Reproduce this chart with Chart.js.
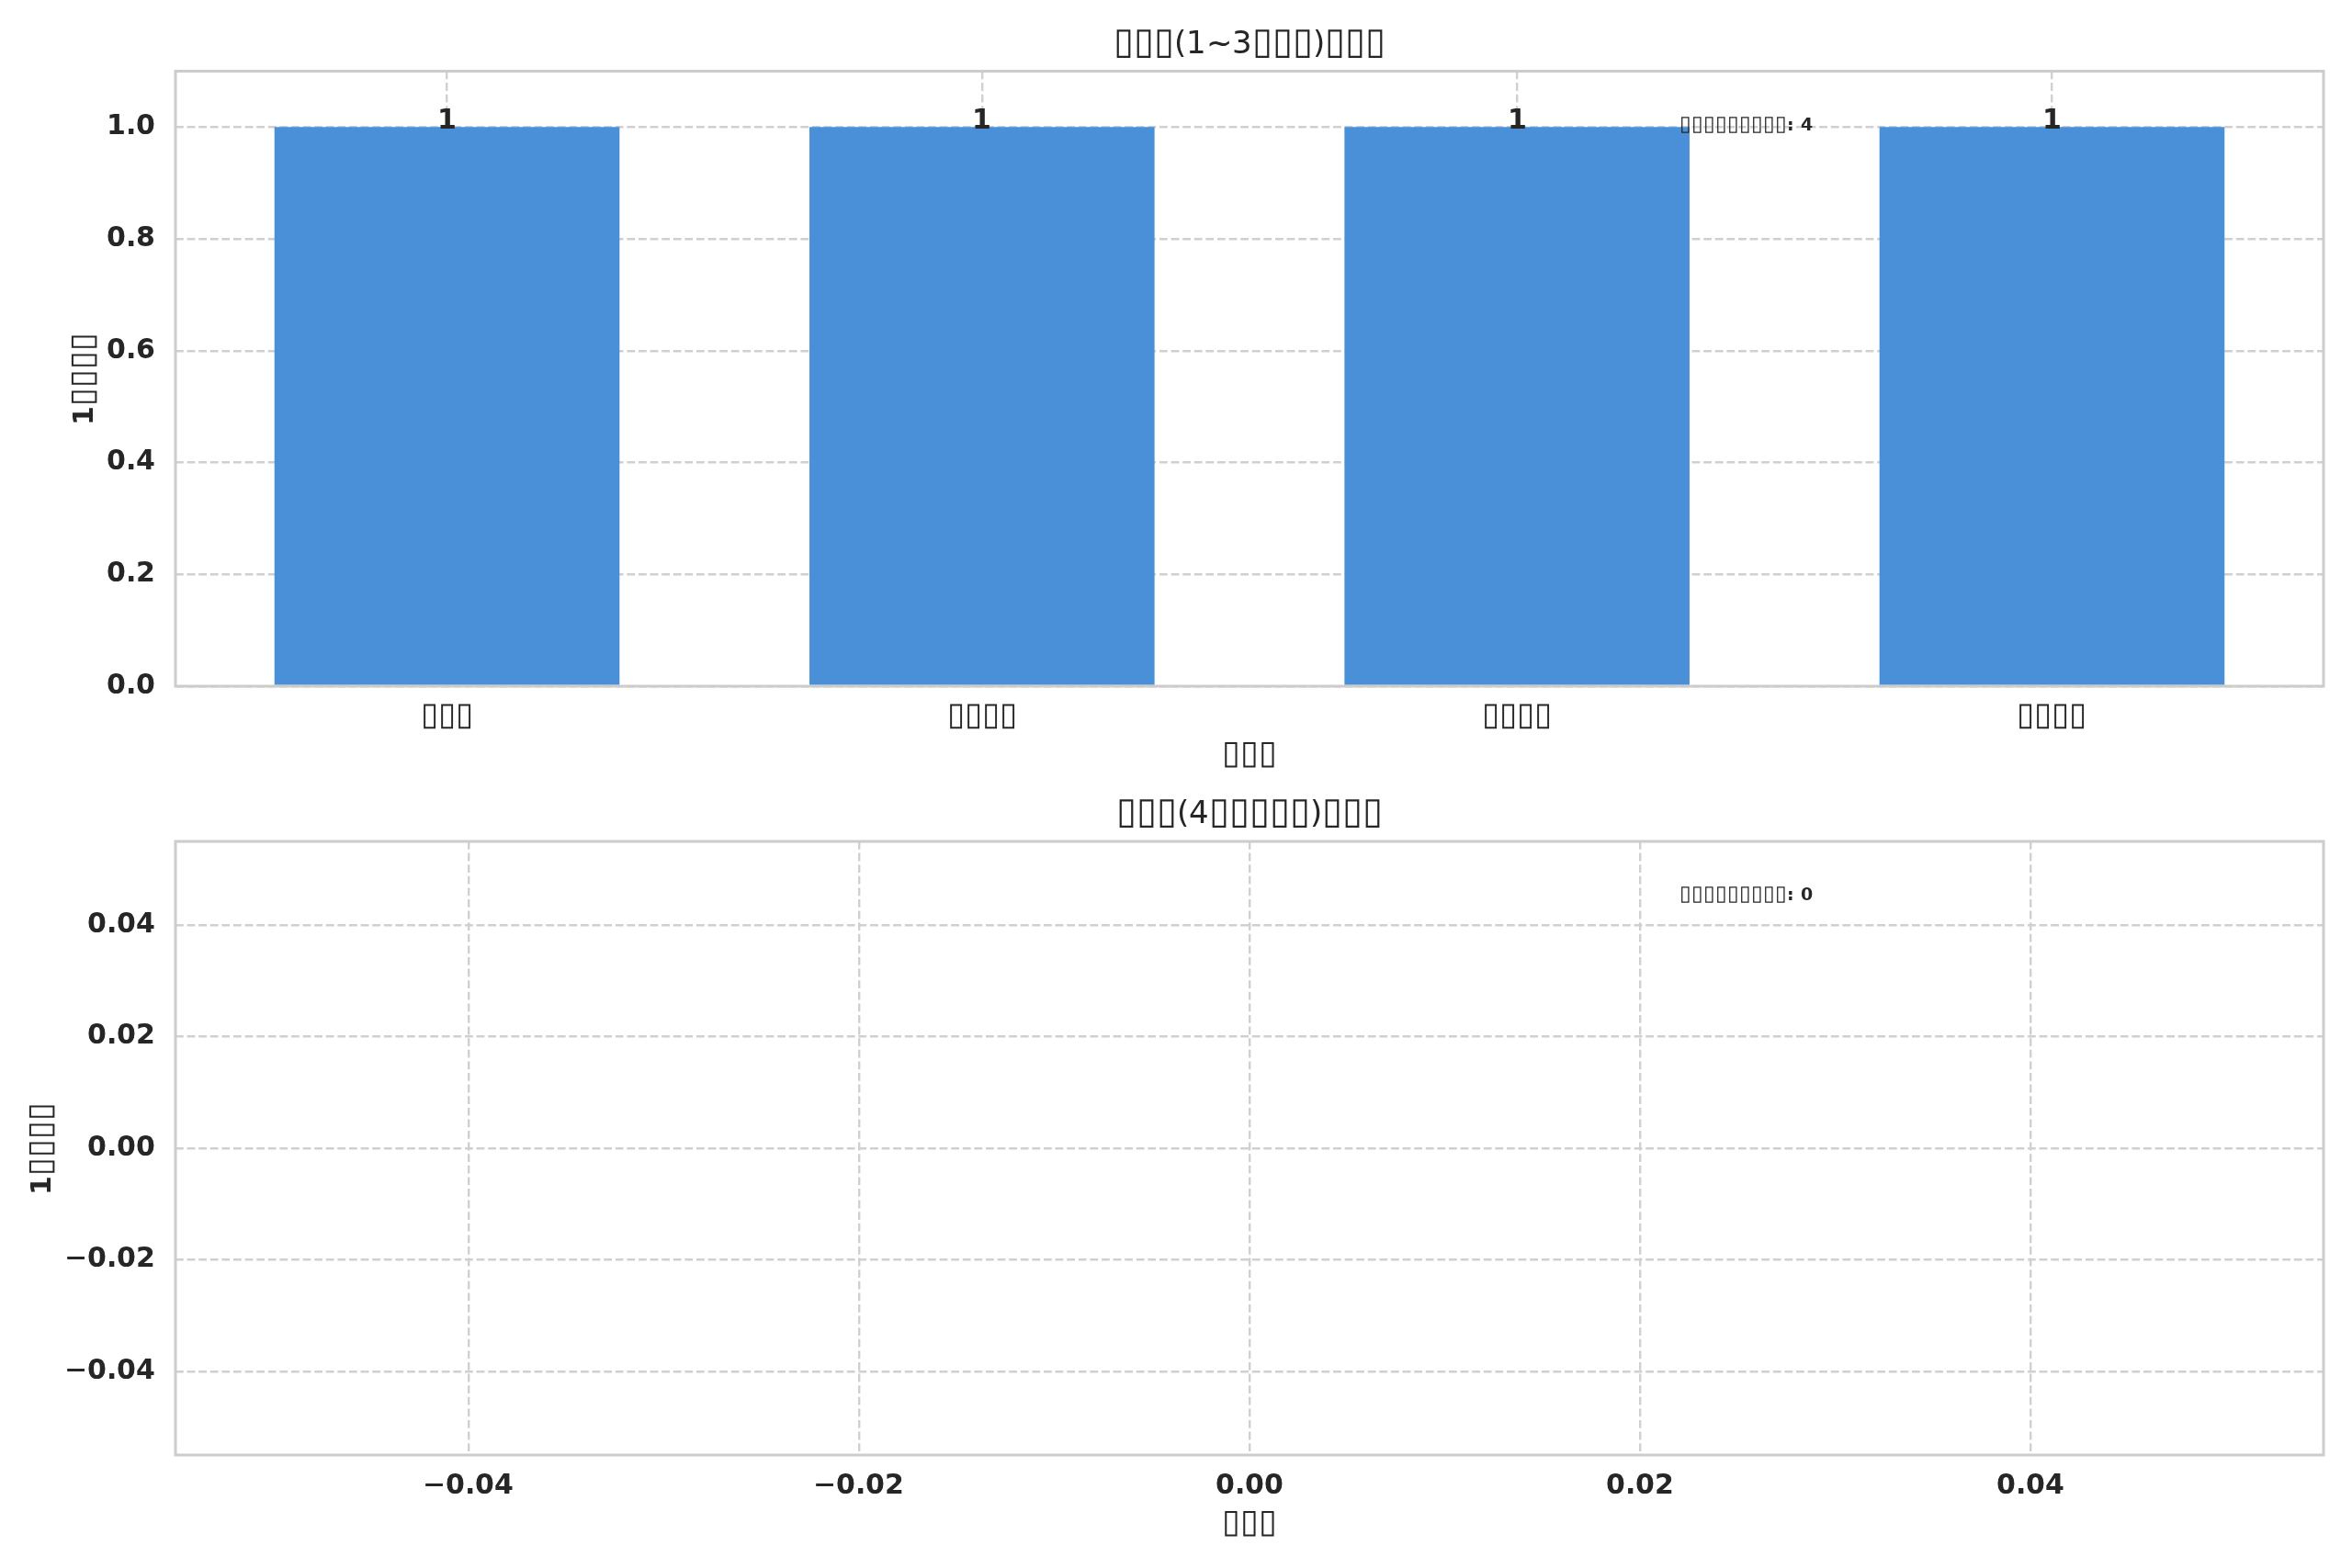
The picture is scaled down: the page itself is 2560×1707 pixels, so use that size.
<!DOCTYPE html>
<html>
<head>
<meta charset="utf-8">
<title>bar summary</title>
<script src="https://cdn.jsdelivr.net/npm/chart.js@4.4.1/dist/chart.umd.min.js"></script>
<style>
  /* DejaVu everywhere, but the box glyph a bit larger, closer to the missing-glyph boxes */
  @font-face { font-family: "FigFont"; src: local("DejaVu Sans"), local("DejaVuSans"); font-weight: normal; }
  @font-face { font-family: "FigFont"; src: local("DejaVu Sans Bold"), local("DejaVuSans-Bold"); font-weight: bold; }
  @font-face { font-family: "FigFont"; src: local("DejaVu Sans"), local("DejaVuSans"); font-weight: normal; unicode-range: U+25AF; size-adjust: 117%; }
  @font-face { font-family: "FigFont"; src: local("DejaVu Sans Bold"), local("DejaVuSans-Bold"); font-weight: bold; unicode-range: U+25AF; size-adjust: 120%; }
  body { margin: 0; background: #fff; }
  .panel { position: absolute; left: 0; width: 2560px; }
</style>
</head>
<body>
<div class="panel" style="top:0;height:850px"><canvas id="upperChart"></canvas></div>
<div class="panel" style="top:850px;height:857px"><canvas id="lowerChart"></canvas></div>
<script>
// the source text came out as missing-glyph boxes, keep them as boxes
const box = (n) => "\u25AF".repeat(n);

const upperTitle = box(3) + "(1~3" + box(3) + ")" + box(3);
const lowerTitle = box(3) + "(4" + box(5) + ")" + box(3);
const yTitle = "1" + box(4);
const xTitle = box(3);
const noteLabel = box(9);

const upperCategories = [box(3), box(4), box(4), box(4)];
const upperCounts = [1, 1, 1, 1];
const lowerCategories = [];
const lowerCounts = [];

const upperYTicks = [0, 0.2, 0.4, 0.6, 0.8, 1.0];
const lowerYTicks = [-0.04, -0.02, 0, 0.02, 0.04];
const lowerXTicks = [-0.04, -0.02, 0, 0.02, 0.04];

const INK = "#262626";
const GRID = "#d0d0d0";
const BAR = "#4a90d9";
const FAMILY = "FigFont, 'DejaVu Sans'";

const total = (arr) => arr.reduce((s, v) => s + v, 0);
const fmt = (v, d) => v.toFixed(d).replace("-", "\u2212");

// full box around the plot area, like the matplotlib spines
const boxFrame = {
  id: "boxFrame",
  afterDatasetsDraw(chart) {
    const { ctx, chartArea: a } = chart;
    ctx.save();
    ctx.strokeStyle = "#cccccc";
    ctx.lineWidth = 3;
    ctx.strokeRect(a.left, a.top, a.right - a.left, a.bottom - a.top);
    ctx.restore();
  },
};

// value above each bar
const barValues = {
  id: "barValues",
  afterDatasetsDraw(chart) {
    const ctx = chart.ctx;
    chart.data.datasets.forEach((ds, i) => {
      chart.getDatasetMeta(i).data.forEach((bar, j) => {
        ctx.save();
        ctx.font = "bold 30px " + FAMILY;
        ctx.fillStyle = INK;
        ctx.textAlign = "center";
        ctx.textBaseline = "alphabetic";
        ctx.fillText(String(ds.data[j].y), bar.x, bar.y + 2);
        ctx.restore();
      });
    });
  },
};

// small note in the upper right of the plot
const cornerNote = {
  id: "cornerNote",
  afterDraw(chart, args, opts) {
    if (!opts.text) return;
    const { ctx, chartArea: a } = chart;
    ctx.save();
    ctx.font = "bold 19px " + FAMILY;
    ctx.fillStyle = INK;
    ctx.textAlign = "left";
    ctx.textBaseline = "middle";
    ctx.fillText(opts.text, a.left + 0.7 * (a.right - a.left), a.top + 0.089 * (a.bottom - a.top));
    ctx.restore();
  },
};

function gridOpts() {
  return { color: GRID, lineWidth: 2.4, drawTicks: false, tickLength: 0, offset: false };
}

function borderOpts() {
  return { display: false, dash: [8.8, 3.8] };
}

function fixedTicks(list) {
  return (s) => {
    s.ticks = list.map((v) => ({ value: v }));
  };
}

function titleOpts(text, padTop, padBottom) {
  return {
    display: true,
    fullSize: false,
    text: text,
    color: INK,
    font: { size: 34, weight: "normal", lineHeight: 1.2 },
    padding: { top: padTop, bottom: padBottom },
  };
}

function yAxis(ticks, min, max, digits, titlePad) {
  return {
    min: min,
    max: max,
    afterBuildTicks: fixedTicks(ticks),
    afterFit: (s) => {
      s.width = 191;
    },
    grid: gridOpts(),
    border: borderOpts(),
    ticks: {
      padding: 22,
      font: { size: 30, weight: "bold" },
      color: INK,
      callback: (v) => fmt(v, digits),
    },
    title: {
      display: true,
      text: yTitle,
      font: { size: 30, weight: "bold", lineHeight: 1.2 },
      color: INK,
      padding: { top: titlePad, bottom: 0 },
    },
  };
}

function xTitleOpts(padBottom) {
  return {
    display: true,
    text: xTitle,
    font: { size: 30, weight: "bold", lineHeight: 1.2 },
    color: INK,
    padding: { top: 0, bottom: padBottom },
  };
}

function drawCharts() {
  Chart.defaults.font.family = FAMILY;
  Chart.defaults.color = INK;

  // bars sit on a numeric axis so the side margins match matplotlib's
  new Chart(document.getElementById("upperChart"), {
    type: "bar",
    data: {
      datasets: [
        {
          data: upperCounts.map((v, i) => ({ x: i, y: v })),
          backgroundColor: BAR,
          borderWidth: 0,
          barPercentage: 0.645,
          categoryPercentage: 1,
        },
      ],
    },
    options: {
      responsive: true,
      maintainAspectRatio: false,
      animation: false,
      layout: { padding: { left: 0, right: 31, top: 0, bottom: 0 } },
      plugins: {
        legend: { display: false },
        tooltip: { enabled: false },
        title: titleOpts(upperTitle, 28.6, 8.1),
        cornerNote: { text: noteLabel + ": " + total(upperCounts) },
      },
      scales: {
        x: {
          type: "linear",
          offset: false,
          min: -0.5075,
          max: upperCategories.length - 1 + 0.5075,
          afterBuildTicks: fixedTicks(upperCategories.map((c, i) => i)),
          afterFit: (s) => {
            s.height = 103;
          },
          grid: gridOpts(),
          border: borderOpts(),
          ticks: {
            padding: 16,
            font: { size: 30 },
            color: INK,
            callback: (v) => upperCategories[v],
          },
          title: xTitleOpts(9),
        },
        y: yAxis(upperYTicks, 0, 1.1, 1, 75),
      },
    },
    plugins: [boxFrame, barValues, cornerNote],
  });

  new Chart(document.getElementById("lowerChart"), {
    type: "bar",
    data: {
      labels: lowerCategories,
      datasets: [
        {
          data: lowerCounts,
          backgroundColor: BAR,
          borderWidth: 0,
        },
      ],
    },
    options: {
      responsive: true,
      maintainAspectRatio: false,
      animation: false,
      layout: { padding: { left: 0, right: 31, top: 0, bottom: 0 } },
      plugins: {
        legend: { display: false },
        tooltip: { enabled: false },
        title: titleOpts(lowerTitle, 16.6, 8.6),
        cornerNote: { text: noteLabel + ": " + total(lowerCounts) },
      },
      scales: {
        x: {
          type: "linear",
          offset: false,
          min: -0.055,
          max: 0.055,
          afterBuildTicks: fixedTicks(lowerXTicks),
          afterFit: (s) => {
            s.height = 123;
          },
          grid: gridOpts(),
          border: borderOpts(),
          ticks: {
            padding: 16,
            font: { size: 30, weight: "bold" },
            color: INK,
            callback: (v) => fmt(v, 2),
          },
          title: xTitleOpts(29),
        },
        y: yAxis(lowerYTicks, -0.055, 0.055, 2, 29),
      },
    },
    plugins: [boxFrame, barValues, cornerNote],
  });
}

Promise.all([
  document.fonts.load("30px FigFont", "\u25AF1"),
  document.fonts.load("bold 30px FigFont", "\u25AF1"),
])
  .catch(() => {})
  .then(drawCharts);
</script>
</body>
</html>
